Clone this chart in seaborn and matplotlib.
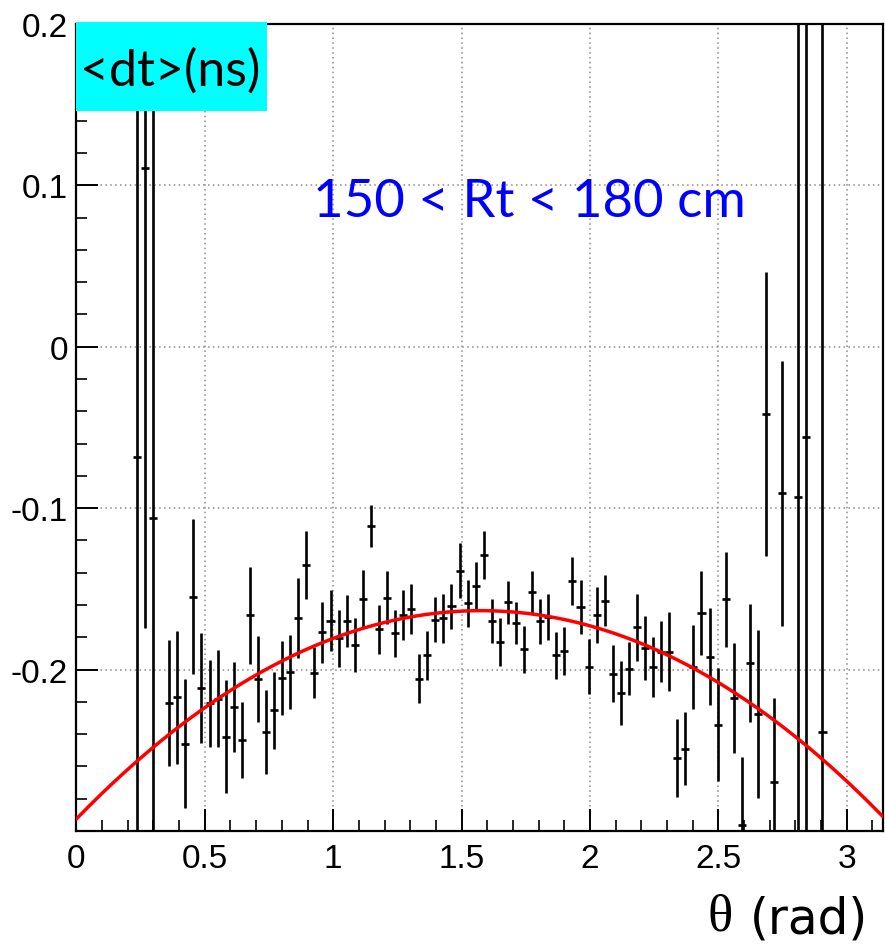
import numpy as np
import matplotlib
matplotlib.use("Agg")
import matplotlib.pyplot as plt
from matplotlib.patches import Rectangle
from matplotlib.ticker import MultipleLocator, FixedLocator, FixedFormatter
import seaborn as sns

# ---- data (bin centres in theta, mean dt, error) ----
theta = [0.2356, 0.2670, 0.2985, 0.3613, 0.3927, 0.4241, 0.4555, 0.4869, 0.5184,
         0.5498, 0.5812, 0.6126, 0.6440, 0.6754, 0.7069, 0.7383, 0.7697, 0.8011,
         0.8325, 0.8639, 0.8954, 0.9268, 0.9582, 0.9896, 1.0210, 1.0524, 1.0838,
         1.1153, 1.1467, 1.1781, 1.2095, 1.2409, 1.2723, 1.3038, 1.3352, 1.3666,
         1.3980, 1.4294, 1.4608, 1.4923, 1.5237, 1.5551, 1.5865, 1.6179, 1.6493,
         1.6808, 1.7122, 1.7436, 1.7750, 1.8064, 1.8378, 1.8692, 1.9007, 1.9321,
         1.9635, 1.9949, 2.0263, 2.0577, 2.0892, 2.1206, 2.1520, 2.1834, 2.2148,
         2.2462, 2.2777, 2.3091, 2.3405, 2.3719, 2.4033, 2.4347, 2.4662, 2.4976,
         2.5290, 2.5604, 2.5918, 2.6232, 2.6546, 2.6861, 2.7175, 2.7489, 2.8117,
         2.8431, 2.9060]
dt = [-0.068, 0.111, -0.106, -0.2207, -0.2172, -0.246, -0.155, -0.2114, -0.221,
      -0.218, -0.2416, -0.2232, -0.2439, -0.1663, -0.206, -0.2387, -0.2253, -0.205,
      -0.2014, -0.168, -0.1352, -0.2019, -0.177, -0.1698, -0.1807, -0.1698, -0.1849,
      -0.156, -0.111, -0.175, -0.1555, -0.1776, -0.1663, -0.1625, -0.2056, -0.1911,
      -0.169, -0.1683, -0.1607, -0.1387, -0.159, -0.148, -0.129, -0.170, -0.1828,
      -0.1584, -0.171, -0.1874, -0.1522, -0.170, -0.1673, -0.1911, -0.1886, -0.1451,
      -0.1615, -0.1983, -0.1663, -0.1573, -0.2025, -0.2145, -0.1994, -0.1739, -0.1865,
      -0.1983, -0.189, -0.189, -0.2547, -0.249, -0.1983, -0.1652, -0.1921, -0.2342,
      -0.1565, -0.2176, -0.296, -0.1959, -0.2276, -0.0418, -0.2694, -0.0908, -0.0931,
      -0.0561, -0.2389]
dt_err = [0.40, 0.285, 0.40, 0.039, 0.041, 0.040, 0.048, 0.034, 0.027,
          0.030, 0.035, 0.028, 0.0235, 0.030, 0.0265, 0.026, 0.024, 0.023,
          0.023, 0.025, 0.021, 0.016, 0.019, 0.019, 0.0176, 0.016, 0.0166,
          0.018, 0.013, 0.0153, 0.0163, 0.0145, 0.0155, 0.0154, 0.015, 0.0153,
          0.0137, 0.0153, 0.014, 0.017, 0.0148, 0.0145, 0.015, 0.0138, 0.015,
          0.0135, 0.013, 0.0145, 0.0135, 0.0139, 0.0142, 0.0145, 0.015, 0.015,
          0.0167, 0.017, 0.0174, 0.016, 0.0176, 0.020, 0.0166, 0.021, 0.0197,
          0.0186, 0.019, 0.0245, 0.024, 0.0228, 0.026, 0.026, 0.030, 0.035,
          0.0296, 0.034, 0.042, 0.0366, 0.052, 0.088, 0.052, 0.082, 0.50,
          0.50, 0.50]
half_bin = np.pi / 200

# fit function parameters (parabola)
fit_peak = -0.1635
fit_centre = 1.575
fit_curv = -0.052

x_ticks = [0, 0.5, 1, 1.5, 2, 2.5, 3]
x_labels = ["0", "0.5", "1", "1.5", "2", "2.5", "3"]
y_ticks = [-0.2, -0.1, 0, 0.1, 0.2]
y_labels = ["-0.2", "-0.1", "0", "0.1", "0.2"]

sns.set_style("ticks")
plt.rcParams["axes.unicode_minus"] = False
plt.rcParams["font.family"] = ["Liberation Sans", "DejaVu Sans"]

fig = plt.figure(figsize=(8.85, 9.45), dpi=100)
ax = fig.add_axes([0.0864, 0.1196, 0.9113, 0.854])

ax.set_xlim(0, np.pi)
ax.set_ylim(-0.3, 0.2)
ax.set_axisbelow(True)

ax.errorbar(theta, dt, yerr=dt_err, xerr=half_bin, fmt="none",
            ecolor="black", elinewidth=1.9, capsize=0, zorder=3)

xf = np.linspace(0, np.pi, 400)
yf = fit_peak + fit_curv * (xf - fit_centre) ** 2
sns.lineplot(x=xf, y=yf, color="red", linewidth=2.5, ax=ax, zorder=4)

ax.xaxis.set_major_locator(FixedLocator(x_ticks))
ax.xaxis.set_major_formatter(FixedFormatter(x_labels))
ax.xaxis.set_minor_locator(MultipleLocator(0.1))
ax.yaxis.set_major_locator(FixedLocator(y_ticks))
ax.yaxis.set_major_formatter(FixedFormatter(y_labels))
ax.yaxis.set_minor_locator(MultipleLocator(0.02))

ax.tick_params(axis="both", which="major", direction="in", length=16, width=1.4,
               labelsize=24, colors="black")
ax.tick_params(axis="both", which="minor", direction="in", length=8, width=1.4)
ax.tick_params(axis="x", which="major", pad=9)
ax.tick_params(axis="y", which="major", pad=6)
ax.tick_params(top=False, right=False, which="both")

ax.grid(True, which="major", color="#8a8a8a", linestyle=(0, (1, 2.2)), linewidth=1.1)
for s in ax.spines.values():
    s.set_linewidth(1.6)
    s.set_color("black")
    s.set_visible(True)

ax.set_xlabel("")
ax.set_ylabel("")

# cyan title box
ax.add_patch(Rectangle((0, 0.892), 0.236, 0.11, transform=ax.transAxes,
                       facecolor="#00ffff", edgecolor="none", zorder=6, clip_on=False))
ax.text(0.005, 0.942, "<dt>(ns)", transform=ax.transAxes, ha="left", va="center",
        fontsize=36, family=["Lato", "DejaVu Sans"], color="black", zorder=7)

ax.text(0.562, 0.78, "150 < Rt < 180 cm", transform=ax.transAxes, ha="center",
        va="center", fontsize=38, family=["Lato", "DejaVu Sans"], color="#0000ff", zorder=7)

fig.text(0.981, 0.027, "(rad)", ha="right", va="center", fontsize=35,
         family=["DejaVu Sans"], color="black")
fig.text(0.828, 0.029, "θ", ha="right", va="center", fontsize=38,
         family=["Liberation Serif", "DejaVu Serif"], color="black")

fig.savefig("out.png", dpi=100, facecolor="white")
